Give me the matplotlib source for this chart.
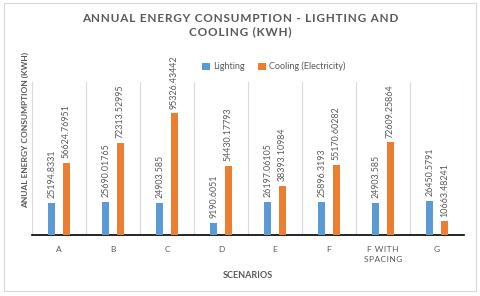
import matplotlib
matplotlib.use('Agg')
import matplotlib.pyplot as plt
from matplotlib.patches import Rectangle
import numpy as np

scenarios = ['A', 'B', 'C', 'D', 'E', 'F', 'F WITH\nSPACING', 'G']
lighting = [25194.8331, 25690.01765, 24903.585, 9190.6051,
            26197.06105, 25896.3193, 24903.585, 26450.5791]
cooling = [56624.76951, 72313.52995, 95326.43442, 54430.17793,
           38393.10984, 55170.60282, 72609.25864, 10663.48241]
lighting_labels = ['25194.8331', '25690.01765', '24903.585', '9190.6051',
                   '26197.06105', '25896.3193', '24903.585', '26450.5791']
cooling_labels = ['56624.76951', '72313.52995', '95326.43442', '54430.17793',
                  '38393.10984', '55170.60282', '72609.25864', '10663.48241']

BLUE = '#5B9BD5'
ORANGE = '#ED7D31'
GREY = '#595959'

plt.rcParams['font.family'] = ['Lato', 'DejaVu Sans']


def spaced(s):
    # fake letter spacing with hair spaces
    return '\n'.join('\u200a'.join(line) for line in s.split('\n'))


fig = plt.figure(figsize=(4.8, 2.96), dpi=100)
ax = fig.add_axes([0.0667, 0.206, 0.9, 0.517])

# light border round the whole chart
fig.patches.append(Rectangle((0.008, 0.017), 0.984, 0.973, transform=fig.transFigure,
                             fill=False, edgecolor='#D9D9D9', linewidth=0.8))

x = np.arange(len(scenarios))
w = 0.13
b1 = ax.bar(x - 0.135, lighting, w, color=BLUE, label='Lighting', zorder=3)
b2 = ax.bar(x + 0.135, cooling, w, color=ORANGE, label='Cooling (Electricity)', zorder=3)

for bars, labels in ((b1, lighting_labels), (b2, cooling_labels)):
    for rect, lab in zip(bars, labels):
        ax.annotate(lab, (rect.get_x() + rect.get_width() / 2, rect.get_height()),
                    xytext=(0, 3.5), textcoords='offset points', rotation=90,
                    ha='center', va='bottom', fontsize=6.4, color=GREY)

# gridlines between categories
for gx in np.arange(-0.5, len(scenarios), 1.0):
    ax.axvline(gx, color='#D9D9D9', linewidth=0.8, zorder=1)

ax.set_xlim(-0.5, len(scenarios) - 0.5)
ax.set_ylim(0, 120000)
ax.set_yticks([])
ax.set_xticks(x)
ax.set_xticklabels([spaced(s) for s in scenarios], fontsize=6, color=GREY,
                   linespacing=1.5)
ax.tick_params(axis='x', length=0, pad=8)
for s in ('left', 'right', 'top'):
    ax.spines[s].set_visible(False)
ax.spines['bottom'].set_color('black')
ax.spines['bottom'].set_linewidth(1.2)

ax.set_xlabel('SCENARIOS', fontsize=6.5, color=GREY, fontweight='bold', labelpad=6)
fig.text(0.052, 0.56, 'ANUAL ENERGY CONSUMPTION (KWH)', rotation=90, ha='center',
         va='center', fontsize=6, color=GREY, fontweight='bold')

fig.text(0.5, 0.915, spaced('ANNUAL ENERGY CONSUMPTION - LIGHTING AND\nCOOLING (KWH)'),
         ha='center', va='center', fontsize=8.5, color=GREY, fontweight='bold',
         linespacing=1.3)

ax.legend(loc='center', bbox_to_anchor=(0.56, 1.1), ncol=2, frameon=False,
          fontsize=6.5, handlelength=0.8, handleheight=0.8, handletextpad=0.4,
          columnspacing=1.5, labelcolor=GREY)

plt.savefig('out.png', dpi=100)
plt.close()
